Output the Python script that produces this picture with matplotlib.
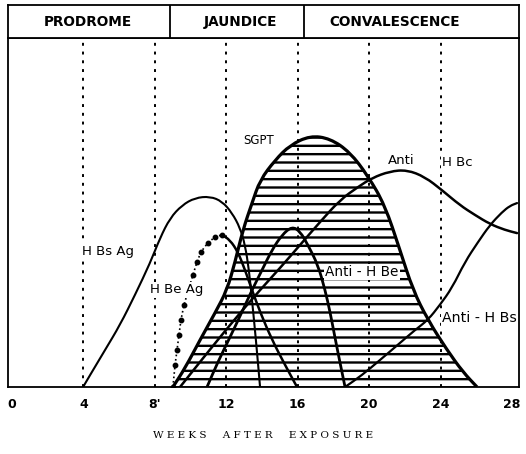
import matplotlib
matplotlib.use("Agg")
import matplotlib.pyplot as plt
import matplotlib as mpl
from matplotlib.path import Path
from matplotlib.patches import PathPatch

mpl.rcParams['hatch.linewidth'] = 1.7

# ---- data (weeks after exposure, relative level 0-100) ----
phases = ["PRODROME", "JAUNDICE", "CONVALESCENCE"]
phase_bounds = [8.85, 16.35]
phase_centers = [4.26, 12.77, 21.4]

tick_weeks = [0, 4, 8, 12, 16, 20, 24, 28]
tick_labels = ["0", "4", "8'", "12", "16", "20", "24", "28"]
guide_weeks = [4, 8, 12, 16, 20, 24]

sgpt_w = [9.01, 9.69, 10.53, 11.37, 12.04, 12.49, 12.93, 13.44, 13.89, 14.73, 15.57,
          16.69, 17.81, 18.92, 19.93, 20.88, 21.72, 22.45, 23.29, 24.36, 25.25, 26.04]
sgpt_v = [0, 5.4, 13.5, 21.2, 27.8, 35.8, 45.0, 52.7, 59.3, 65.0, 69.3,
          72.0, 71.2, 67.3, 60.5, 52.1, 39.3, 27.8, 19.2, 10.6, 4.3, 0]

hbsag_w = [3.98, 4.37, 5.21, 6.05, 6.89, 7.73, 8.29, 8.85, 9.52, 10.25, 11.09,
           11.76, 12.32, 12.77, 13.05, 13.27, 13.44, 13.66, 13.89]
hbsag_v = [0, 3.4, 10.6, 17.8, 26.4, 35.5, 42.7, 48.4, 52.1, 54.2, 54.6,
           53.2, 49.9, 45.6, 40.7, 33.5, 24.9, 13.5, 0]

hbeag_w = [9.01, 9.13, 9.24, 9.35, 9.46, 9.63, 10.13, 10.36, 10.58, 10.97, 11.37, 11.76,
           12.21, 12.65, 13.05, 13.44, 13.89, 14.56, 15.29, 15.96]
hbeag_v = [0, 6.3, 10.6, 14.9, 19.2, 23.5, 32.1, 35.8, 38.7, 41.3, 43.0, 43.6,
           42.1, 38.7, 33.5, 27.8, 21.5, 13.5, 6.3, 0]
hbeag_dotted_n = 12  # points drawn as dotted beads (rising part)

antihbe_w = [10.92, 11.53, 12.21, 12.88, 13.44, 14.00, 14.56, 15.12, 15.68, 16.13,
             16.57, 17.13, 17.53, 17.81, 18.08, 18.37, 18.65]
antihbe_v = [0, 7.2, 14.3, 21.5, 27.8, 33.5, 39.3, 43.6, 46.0, 44.6,
             40.7, 35.0, 27.8, 21.5, 14.3, 6.9, 0]

antihbc_w = [9.41, 10.53, 11.65, 12.77, 13.89, 15.01, 16.13, 17.25, 18.37, 19.37,
             20.16, 21.16, 22.12, 23.12, 24.08, 25.08, 25.92, 26.76, 27.60, 28.28]
antihbc_v = [0, 7.2, 14.3, 21.2, 27.8, 34.1, 40.7, 47.3, 53.6, 57.3,
             59.9, 61.8, 62.2, 60.2, 56.4, 52.1, 49.3, 46.7, 45.0, 44.1]

antihbs_w = [18.65, 19.60, 20.60, 21.72, 22.56, 23.29, 23.96, 24.64, 25.36, 26.09,
             26.76, 27.44, 27.88, 28.28]
antihbs_v = [0, 3.4, 7.7, 12.6, 16.3, 19.2, 23.5, 28.4, 35.8, 41.5,
             46.4, 50.1, 51.9, 52.7]

labels = [
    ("H Bs Ag", 3.92, 38.7, 9.5),
    ("H Be Ag", 7.73, 27.8, 9.5),
    ("SGPT", 12.93, 70.5, 8.5),
    ("Anti", 21.05, 65.0, 9.5),
    ("H Bc", 24.08, 64.2, 9.5),
    ("Anti - H Be", 17.53, 33.0, 9.8),
    ("Anti - H Bs", 24.08, 19.8, 10.2),
]


def smooth_path(xs, ys, close=False):
    """Quadratic-Bezier path using the read points as control points."""
    pts = list(zip(xs, ys))
    verts = [pts[0]]
    codes = [Path.MOVETO]
    mid = lambda a, b: ((a[0] + b[0]) / 2, (a[1] + b[1]) / 2)
    verts.append(mid(pts[0], pts[1]))
    codes.append(Path.LINETO)
    for i in range(1, len(pts) - 1):
        verts += [pts[i], mid(pts[i], pts[i + 1])]
        codes += [Path.CURVE3, Path.CURVE3]
    verts.append(pts[-1])
    codes.append(Path.LINETO)
    if close:
        verts.append(pts[0])
        codes.append(Path.CLOSEPOLY)
    return Path(verts, codes)


# ---- figure ----
W, H = 526, 454
fig = plt.figure(figsize=(W / 100, H / 100), dpi=100)
fig.patch.set_facecolor("white")

x0, x1, ytop, ybot = 8, 519, 38, 387
ax = fig.add_axes([x0 / W, 1 - ybot / H, (x1 - x0) / W, (ybot - ytop) / H])
hx = fig.add_axes([x0 / W, 1 - ytop / H, (x1 - x0) / W, (ytop - 5) / H])

xlim = (-0.224, 28.39)
for a in (ax, hx):
    a.set_xlim(*xlim)
    for s in a.spines.values():
        s.set_linewidth(1.3)
        s.set_color("black")
ax.set_ylim(0, 100)
hx.set_ylim(0, 1)

# header
hx.set_xticks([])
hx.set_yticks([])
for b in phase_bounds:
    hx.axvline(b, color="black", lw=1.3)
for name, c in zip(phases, phase_centers):
    hx.text(c, 0.47, name, ha="center", va="center", fontsize=9.8,
            fontweight="bold", family="DejaVu Sans")

# guide lines
for g in guide_weeks:
    ax.axvline(g, color="black", lw=1.4, linestyle=(0, (1.5, 3)), zorder=3)

# SGPT hatched region
ax.add_patch(PathPatch(smooth_path(sgpt_w, sgpt_v, close=True), facecolor="white",
                       edgecolor="black", hatch="--", linewidth=0, zorder=1))
ax.add_patch(PathPatch(smooth_path(sgpt_w, sgpt_v), facecolor="none",
                       edgecolor="black", lw=2.3, zorder=4))


def curve(xs, ys, lw):
    ax.add_patch(PathPatch(smooth_path(xs, ys), facecolor="none", edgecolor="black",
                           lw=lw, zorder=4, capstyle="round", joinstyle="round"))


curve(hbsag_w, hbsag_v, 1.5)
ax.plot(hbeag_w[:hbeag_dotted_n], hbeag_v[:hbeag_dotted_n], color="black", lw=1.2,
        linestyle=":", marker="o", markersize=3.2, zorder=4)
curve(hbeag_w[hbeag_dotted_n - 1:], hbeag_v[hbeag_dotted_n - 1:], 1.8)
curve(antihbe_w, antihbe_v, 2.0)
curve(antihbc_w, antihbc_v, 1.8)
curve(antihbs_w, antihbs_v, 1.6)

for txt, lx, ly, fs in labels:
    ax.text(lx, ly, txt, ha="left", va="center", fontsize=fs, color="black",
            family="DejaVu Sans", zorder=6, clip_on=False,
            bbox=dict(facecolor="white", edgecolor="none", pad=0.8))

ax.set_yticks([])
ax.set_xticks(tick_weeks)
ax.set_xticklabels(tick_labels, fontsize=9, fontweight="bold")
ax.tick_params(axis="x", length=0, pad=8)

ax.set_xlabel("W E E K S     A F T E R     E X P O S U R E", fontsize=7.5,
              family="DejaVu Serif", labelpad=14)

fig.savefig("out.png", dpi=100, facecolor="white")
